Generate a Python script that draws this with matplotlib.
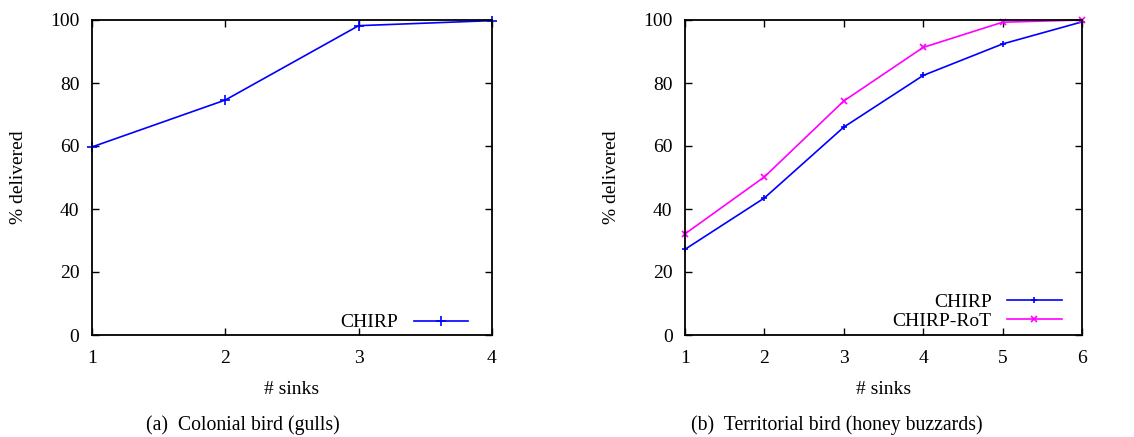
import matplotlib
matplotlib.use('Agg')
import matplotlib.pyplot as plt

plt.rcParams['font.family'] = ['Liberation Serif', 'DejaVu Serif']
plt.rcParams['mathtext.fontset'] = 'stix'

# colonial birds (gulls)
sinks_a = [1, 2, 3, 4]
chirp_a = [59.7, 74.6, 98.2, 99.8]

# territorial birds (honey buzzards)
sinks_b = [1, 2, 3, 4, 5, 6]
chirp_b = [27.2, 43.5, 66.0, 82.4, 92.4, 99.4]
chirp_rot_b = [32.1, 50.2, 74.3, 91.3, 99.3, 100.0]

yticks = [0, 20, 40, 60, 80, 100]

fig = plt.figure(figsize=(11.34, 4.37), dpi=100)
W, H = 1134, 437
ax1 = fig.add_axes([92 / W, 1 - 335 / H, 400 / W, 315 / H])
ax2 = fig.add_axes([685 / W, 1 - 335 / H, 397 / W, 315 / H])


def style_axes(ax, xs):
    ax.set_xlim(xs[0], xs[-1])
    ax.set_ylim(0, 100)
    ax.set_xticks(xs)
    ax.set_yticks(yticks)
    ax.tick_params(direction='in', top=True, right=True, length=5, width=1,
                   labelsize=14)
    ax.tick_params(axis='x', pad=11)
    ax.tick_params(axis='y', pad=9)
    for s in ax.spines.values():
        s.set_linewidth(1.3)
    ax.set_xlabel('# sinks', fontsize=14, labelpad=10)
    ax.set_ylabel('% delivered', fontsize=14, labelpad=17)


ax1.plot(sinks_a, chirp_a, color='#0000ff', marker='+', markersize=7,
         markeredgewidth=1.2, linewidth=1.2, label='CHIRP', clip_on=False)
style_axes(ax1, sinks_a)
ax1.legend(loc='lower right', frameon=False, markerfirst=False, fontsize=14,
           handlelength=2.8, borderaxespad=0.4, bbox_to_anchor=(0.98, -0.038))

ax2.plot(sinks_b, chirp_b, color='#0000ff', marker='+', markersize=5,
         markeredgewidth=1.2, linewidth=1.2, label='CHIRP', clip_on=False)
ax2.plot(sinks_b, chirp_rot_b, color='#ff00ff', marker='x', markersize=4,
         markeredgewidth=1.2, linewidth=1.2, label='CHIRP-RoT', clip_on=False)
style_axes(ax2, sinks_b)
ax2.legend(loc='lower right', frameon=False, markerfirst=False, fontsize=14,
           handlelength=2.8, borderaxespad=0.2, labelspacing=0.1,
           bbox_to_anchor=(0.978, -0.022))

fig.text(243 / W, 1 - 425 / H, '(a)  Colonial bird (gulls)', fontsize=14.2,
         ha='center', va='center')
fig.text(837 / W, 1 - 425 / H, '(b)  Territorial bird (honey buzzards)',
         fontsize=14.2, ha='center', va='center')

fig.savefig('out.png', dpi=100)
